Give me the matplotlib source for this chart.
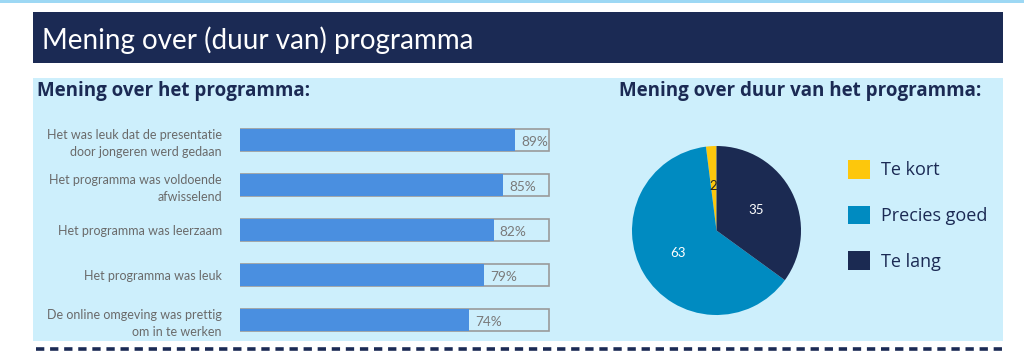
import matplotlib.pyplot as plt
from matplotlib.patches import Rectangle

# data
statements = [
    'Het was leuk dat de presentatie\ndoor jongeren werd gedaan',
    'Het programma was voldoende\nafwisselend',
    'Het programma was leerzaam',
    'Het programma was leuk',
    'De online omgeving was prettig\nom in te werken',
]
agree_pct = [89, 85, 82, 79, 74]

duration_labels = ['Te kort', 'Precies goed', 'Te lang']
duration_values = [2, 63, 35]

navy = '#1b2a54'
panel = '#cdeffc'
bar_blue = '#4a8fe0'
pie_colors = ['#fdc70c', '#008bc1', '#1b2a52']

W, H = 1024, 360
fig = plt.figure(figsize=(W / 100, H / 100), dpi=100)
fig.patch.set_facecolor('white')


def px(x0, y0, x1, y1):
    # pixel box (top-left origin) -> figure fraction
    return [x0 / W, 1 - y1 / H, (x1 - x0) / W, (y1 - y0) / H]


# background pieces
bg = fig.add_axes([0, 0, 1, 1])
bg.set_xlim(0, W)
bg.set_ylim(H, 0)
bg.axis('off')
bg.add_patch(Rectangle((0, 0), W, 2.5, color='#9dd8f4', lw=0))
bg.add_patch(Rectangle((33, 12), 970, 51, color=navy, lw=0))
bg.add_patch(Rectangle((33, 78), 970, 263, color=panel, lw=0))
bg.plot([36, 1003], [348.5, 348.5], color=navy, lw=2.6, dashes=(2.3, 1.6))
bg.text(42, 40, 'Mening over (duur van) programma', color='white',
        fontsize=20, family='Lato', va='center', ha='left')
bg.text(37, 91, 'Mening over het programma:', color=navy, fontsize=13.5,
        family='Open Sans', weight='bold', va='center', ha='left')
bg.text(800, 91, 'Mening over duur van het programma:', color=navy, fontsize=13.5,
        family='Open Sans', weight='bold', va='center', ha='center')

# bar chart
ax = fig.add_axes(px(240, 117.5, 551, 342.5))
ax.patch.set_alpha(0)
ypos = list(range(len(statements)))
ax.barh(ypos, [100] * len(ypos), height=0.49, color='none',
        edgecolor='#9a9a9a', lw=1.2, zorder=1)
ax.barh(ypos, agree_pct, height=0.49, color=bar_blue, lw=0, zorder=2)
for y, v in zip(ypos, agree_pct):
    ax.text(v + 1.9, y + 0.05, f'{v}%', color='#7a7a7a', fontsize=9.8,
            family='Lato', va='center', ha='left')
ax.set_xlim(0, 100.5)
ax.set_ylim(4.5, -0.5)
ax.set_xticks([])
ax.set_yticks(ypos)
ax.set_yticklabels(statements, fontsize=9, family='Lato', color='#6a6a6a',
                   linespacing=1.55)
ax.tick_params(axis='y', length=0, pad=13)
for s in ax.spines.values():
    s.set_visible(False)

# pie chart
pax = fig.add_axes(px(632, 146, 801, 315))
wedges, texts = pax.pie(duration_values, colors=pie_colors, startangle=90,
                        labels=[str(v) for v in duration_values],
                        labeldistance=0.53,
                        textprops=dict(fontsize=9.5, family='Lato'),
                        wedgeprops=dict(lw=0))
for t, c in zip(texts, ['#222222', 'white', 'white']):
    t.set_color(c)
    t.set_ha('center')
    t.set_va('center')
pax.set_xlim(-1, 1)
pax.set_ylim(-1, 1)

leg = fig.legend(wedges, duration_labels, loc='upper left',
                 bbox_to_anchor=(848 / W, 1 - 160 / H), frameon=False,
                 prop=dict(family='Open Sans', size=13), labelcolor=navy,
                 handlelength=1.22, handleheight=1.22, handletextpad=0.6,
                 labelspacing=1.45, borderpad=0, borderaxespad=0)

fig.savefig('out.png', dpi=100)
